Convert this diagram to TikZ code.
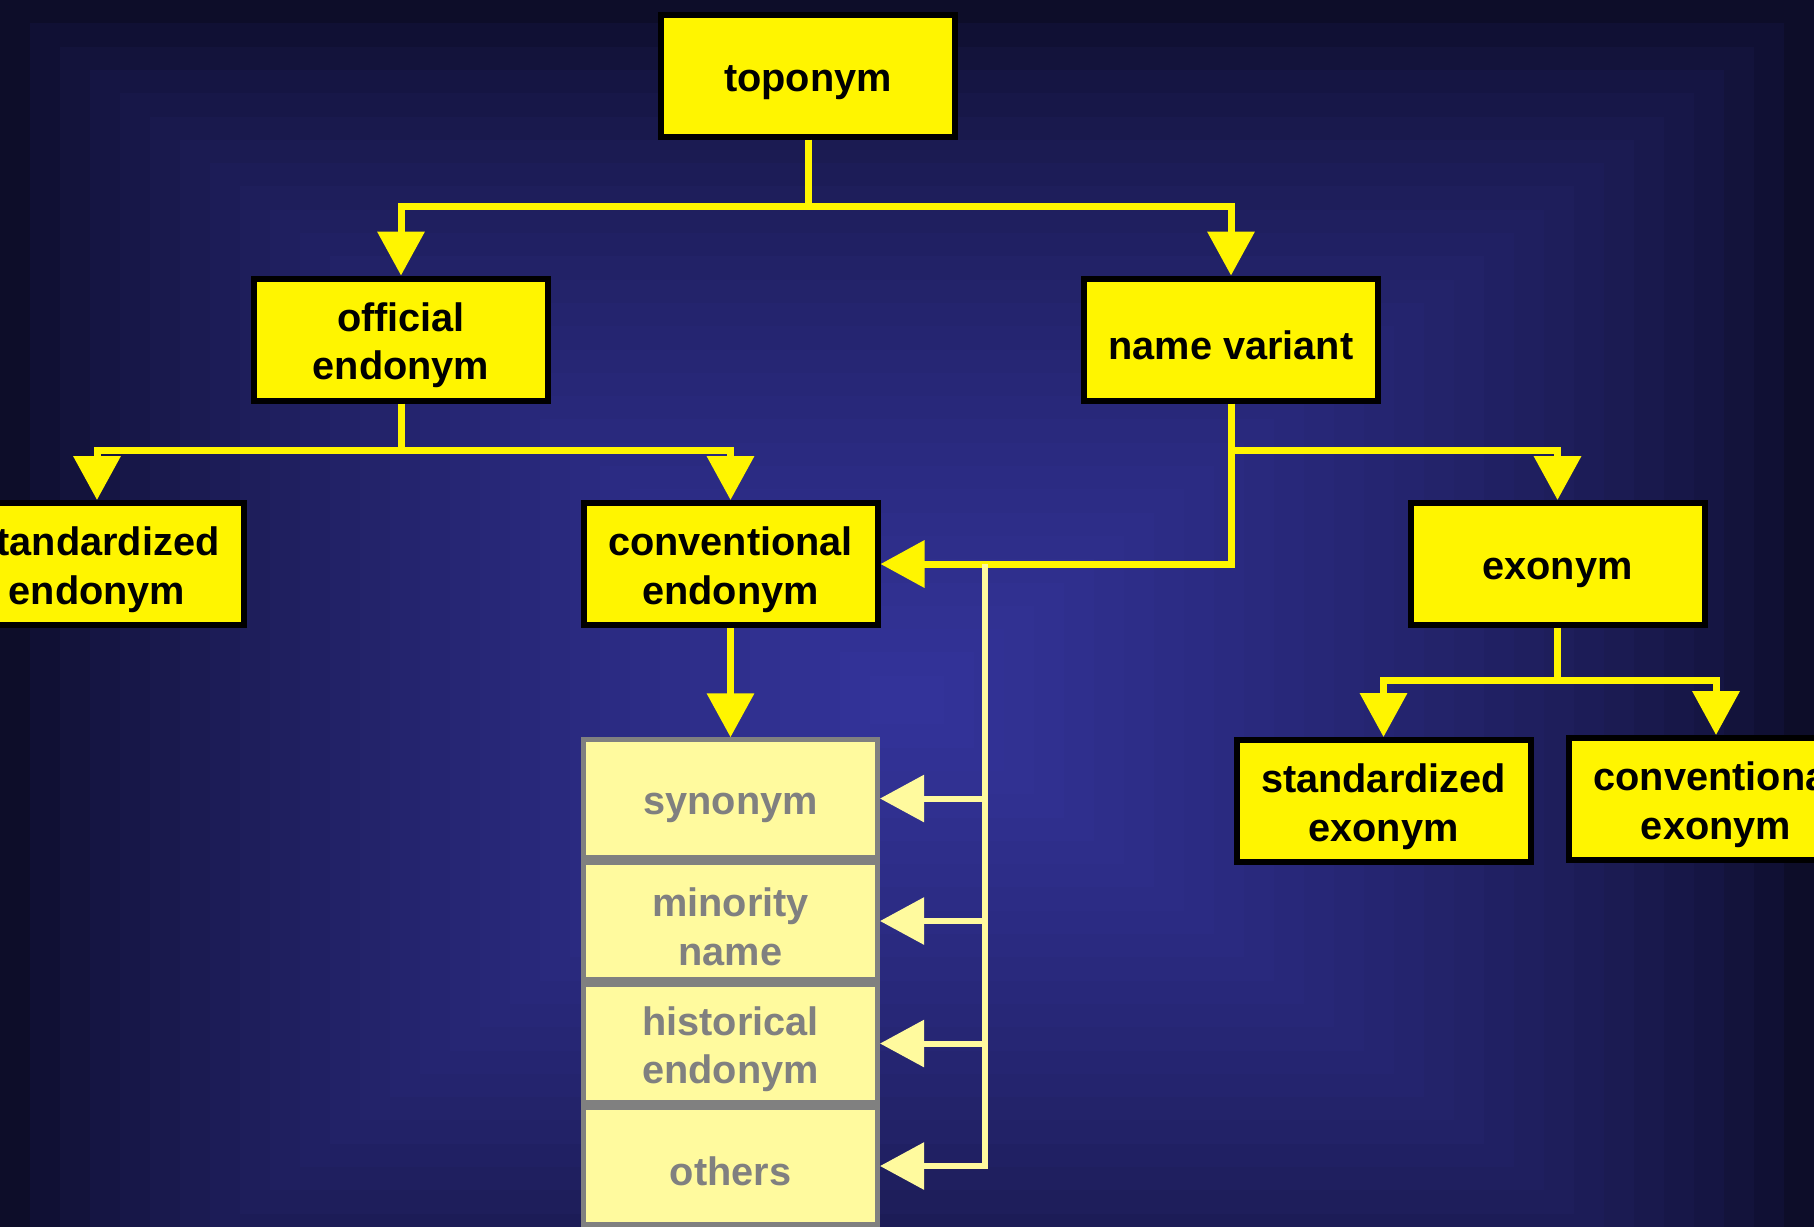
\documentclass[tikz,border=0pt]{standalone}
\usepackage{fontspec}
\setmainfont{Liberation Sans}
\usepackage{tkz-euclide}
\usetikzlibrary{arrows.meta}
\definecolor{bgin}{RGB}{51,51,153}
\definecolor{bgout}{RGB}{4,4,16}
\definecolor{ylw}{RGB}{255,245,0}
\definecolor{pale}{RGB}{255,250,158}
\definecolor{greytext}{RGB}{128,128,128}
\tikzset{>={Triangle[width=4.6mm,length=4.4mm]},
  lift/.style={execute at begin node={\rule{0pt}{#1}}},
  yellowbox/.style={draw=black, line width=0.6mm, fill=ylw, minimum width=2.94cm,
    minimum height=1.22cm, align=center, inner sep=1pt,
    font=\bfseries\fontsize{11.3}{13.8}\selectfont, lift=11.3pt},
  twoline/.style={lift=25.3pt},
  palebox/.style={yellowbox, draw=greytext, line width=0.5mm, fill=pale,
    text=greytext, minimum height=1.175cm},
  mainline/.style={ylw, line width=0.7mm},
  paleline/.style={pale, line width=0.6mm}}

\begin{document}
\begin{tikzpicture}
\useasboundingbox (0,0) rectangle (18.14,-12.26);
\foreach \i [evaluate=\i as \p using {100*((\i+1)/30)^0.5}] in {0,...,29}
  \fill[bgin!\p!bgout] ({0.3*\i},{-0.233*\i}) rectangle ({18.14-0.3*\i},{-14+0.233*\i});
\tkzDefPoints{8.08/-0.755/T, 4.01/-3.395/O, 12.31/-3.395/V, 0.97/-5.64/SE,
  7.305/-5.64/CE, 15.575/-5.64/X, 13.835/-8.01/SX, 17.16/-7.99/CX}
\tkzDefPoints{8.08/-2.06/J1, 4.01/-4.50/J2, 12.31/-4.50/J3, 15.575/-6.80/J4, 9.85/-5.64/J5}
\node[yellowbox] (top) at (T) {toponym};
\node[yellowbox,twoline] (off) at (O) {official\\endonym};
\node[yellowbox] (nv) at (V) {name variant};
\node[yellowbox,twoline] (std) at (SE) {standardized\\endonym};
\node[yellowbox,twoline] (conv) at (CE) {conventional\\endonym};
\node[yellowbox] (exo) at (X) {exonym};
\node[yellowbox,twoline] (sex) at (SX) {standardized\\exonym};
\node[yellowbox,twoline] (cex) at (CX) {conventional\\exonym};
\node[palebox] (syn) at (7.305,-7.985) {synonym};
\node[palebox,twoline] (min) at (7.305,-9.21) {minority\\name};
\node[palebox,twoline] (his) at (7.305,-10.435) {historical\\endonym};
\node[palebox] (oth) at (7.305,-11.66) {others};
\draw[mainline,->] (top.south) -- (J1) -| (off.north);
\draw[mainline,->] (J1) -| (nv.north);
\draw[mainline,->] (off.south) -- (J2) -| (std.north);
\draw[mainline,->] (J2) -| (conv.north);
\draw[mainline,->] (nv.south) -- (J3) -| (exo.north);
\draw[mainline,->] (J3) |- (conv.east);
\draw[mainline,->] (exo.south) -- (J4) -| (sex.north);
\draw[mainline,->] (J4) -| (cex.north);
\draw[mainline,->] (conv.south) -- (syn.north);
\foreach \n in {syn,min,his,oth}
  \draw[paleline,->] (J5) |- (\n.east);
\end{tikzpicture}
\end{document}
